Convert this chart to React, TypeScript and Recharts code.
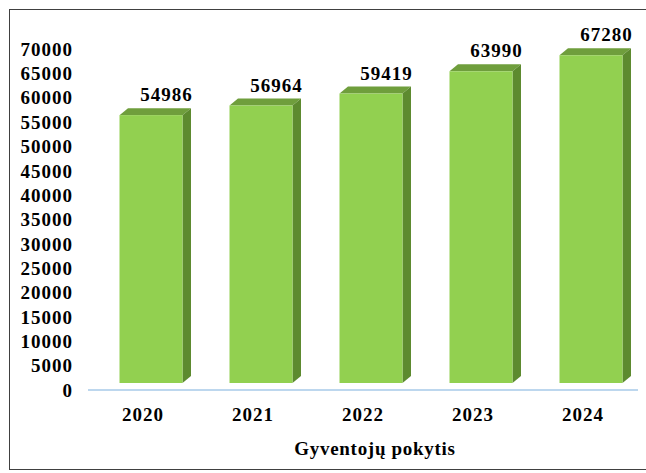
import { BarChart, Bar, XAxis, YAxis, LabelList } from 'recharts';

const years = ['2020', '2021', '2022', '2023', '2024'];
const residents = [54986, 56964, 59419, 63990, 67280];
const yTicks = [0, 5000, 10000, 15000, 20000, 25000, 30000, 35000, 40000, 45000, 50000, 55000, 60000, 65000, 70000];
const chartTitle = 'Gyventojų pokytis';

const FRONT = '#92d050';
const TOP = '#6f9e3c';
const SIDE = '#5d8a2f';
const FONT = '"Liberation Serif", "Times New Roman", serif';

// front face is nudged right/up so the box reads like the Excel 3D column
const SHIFT_X = 7.5;
const SHIFT_Y = -7;
const DEPTH_X = 8.5;
const DEPTH_Y = 7;

function Box3D(props: any) {
  const { x, y, width, height } = props;
  if (!height || height <= 0) return null;
  const fx = x + SHIFT_X;
  const fy = y + SHIFT_Y;
  const r = fx + width;
  const b = fy + height;
  return (
    <g>
      <polygon
        points={`${fx},${fy} ${fx + DEPTH_X},${fy - DEPTH_Y} ${r + DEPTH_X},${fy - DEPTH_Y} ${r},${fy}`}
        fill={TOP}
      />
      <polygon
        points={`${r},${fy} ${r + DEPTH_X},${fy - DEPTH_Y} ${r + DEPTH_X},${b - DEPTH_Y} ${r},${b}`}
        fill={SIDE}
      />
      <rect x={fx} y={fy} width={width} height={height} fill={FRONT} />
    </g>
  );
}

function ValueLabel(props: any) {
  const { x, y, width, value } = props;
  return (
    <text
      x={x + width / 2 + 23}
      y={y - 21}
      textAnchor="middle"
      fontFamily={FONT}
      fontWeight="bold"
      fontSize={19}
      letterSpacing={1}
      fill="#000"
    >
      {value}
    </text>
  );
}

const tickStyle = { fill: '#000', fontFamily: FONT, fontWeight: 'bold', fontSize: 19, letterSpacing: 1 };

export default function App() {
  const data = years.map((year, i) => ({ year, value: residents[i] }));

  return (
    <div style={{ position: 'absolute', left: 0, top: 0, width: 646, height: 473, background: '#fff' }}>
      <div
        style={{
          position: 'absolute',
          left: 9,
          top: 9,
          width: 637,
          height: 461,
          borderTop: '1.5px solid #404040',
          borderLeft: '1.5px solid #404040',
          borderBottom: '1.5px solid #404040',
          boxSizing: 'border-box',
        }}
      />
      <BarChart
        width={646}
        height={473}
        data={data}
        margin={{ top: 49, right: 8, left: 0, bottom: 53 }}
        style={{ position: 'absolute', left: 0, top: 0 }}
      >
        <XAxis
          dataKey="year"
          height={30}
          tickLine={false}
          axisLine={{ stroke: '#bdd7ee', strokeWidth: 2 }}
          tickMargin={12}
          tick={tickStyle}
        />
        <YAxis
          width={88}
          domain={[0, 70000]}
          ticks={yTicks}
          interval={0}
          tickLine={false}
          axisLine={false}
          tickMargin={9}
          tick={tickStyle}
        />
        <Bar dataKey="value" barSize={63} shape={<Box3D />} isAnimationActive={false}>
          <LabelList dataKey="value" content={<ValueLabel />} />
        </Bar>
      </BarChart>
      <div
        style={{
          position: 'absolute',
          left: 0,
          width: 750,
          top: 438,
          textAlign: 'center',
          fontFamily: FONT,
          fontWeight: 'bold',
          fontSize: 19,
          letterSpacing: 0.7,
          color: '#000',
          lineHeight: '22px',
        }}
      >
        {chartTitle}
      </div>
    </div>
  );
}
